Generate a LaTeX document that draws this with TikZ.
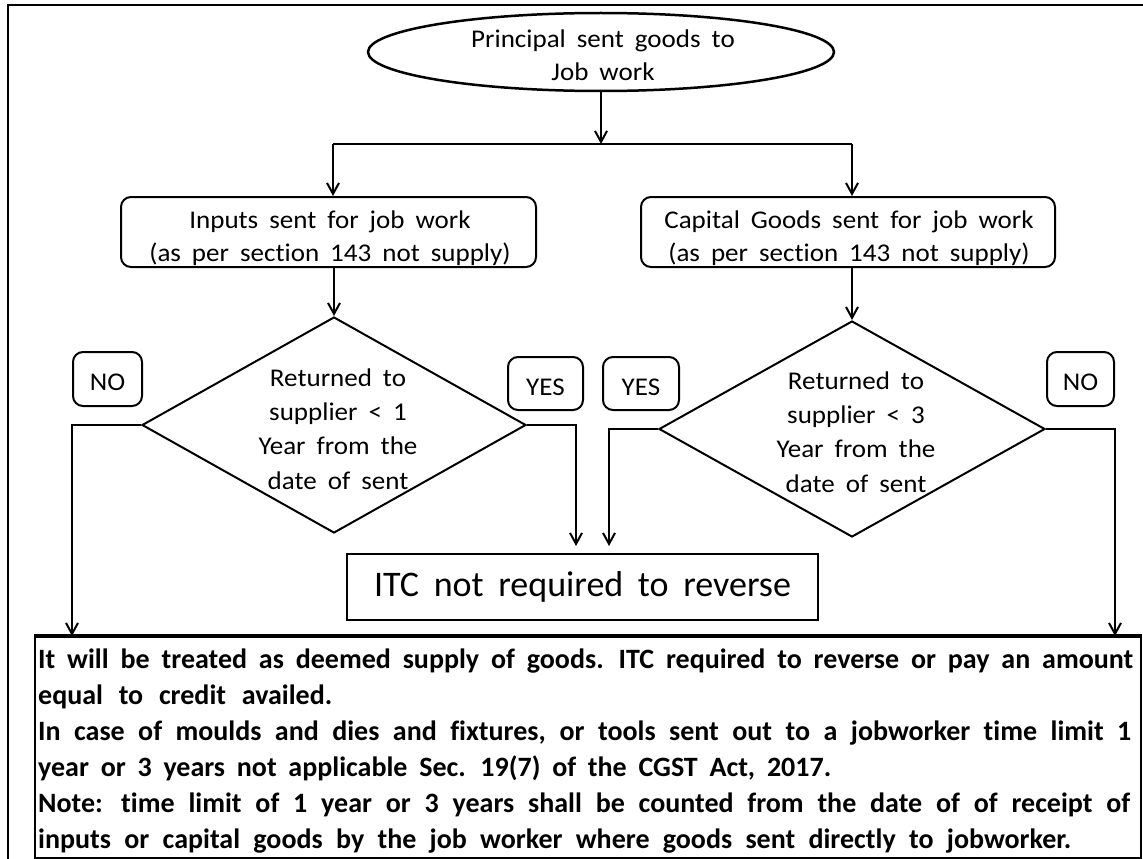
\documentclass[tikz,border=0pt]{standalone}
\usepackage{fontspec}
\setmainfont{Carlito}[WordSpace=1.8, Ligatures=NoCommon]
\newfontfamily\flowfont{Carlito}[FakeStretch=1.06, WordSpace=1.8, Ligatures=NoCommon]
\usetikzlibrary{shapes.geometric,arrows.meta}
\begin{document}
\begin{tikzpicture}[x=1pt,y=-1pt,
  shape line/.style={draw,line width=2pt},
  flow/.style={line width=2pt,-{Straight Barb[length=11pt,width=12pt,line width=2pt]}},
  plain line/.style={line width=2pt},
  label text/.style={font=\flowfont\fontsize{25.5}{34}\selectfont, align=center, inner sep=0pt},
  rbox/.style={shape line, rounded corners=10pt, inner sep=0pt},
  answer/.style={rbox, font=\flowfont\fontsize{25.5}{30}\selectfont, text height=23pt, text depth=0pt},
  note line/.style={anchor=base west, inner sep=0pt, font=\fontsize{28}{36}\selectfont\bfseries}
]
\useasboundingbox (0,0) rectangle (1143,859);
\fill[white] (0,0) rectangle (1143,859);
\clip (0,0) rectangle (1143,859);

% outer frame
\draw[line width=2.5pt] (8,880) -- (8,5) -- (1160,5);

% start
\node (start) [ellipse, shape line, line width=2.5pt, minimum width=466pt, minimum height=78pt, inner sep=0pt] at (601,52) {};
\node (start text) [label text, font=\flowfont\fontsize{25.5}{33}\selectfont] at (603,55) {Principal sent goods to\\Job work};

% the two kinds of goods
\node (inputs) [rbox, minimum width=415pt, minimum height=70pt] at (328.5,232) {};
\node (inputs text) [label text, font=\flowfont\fontsize{25.5}{33}\selectfont] at (330,238) {Inputs sent for job work\\(as per section 143 not supply)};
\node (capital) [rbox, minimum width=414pt, minimum height=70pt] at (848,232) {};
\node (capital text) [label text, font=\flowfont\fontsize{25.5}{33}\selectfont] at (849,238) {Capital Goods sent for job work\\(as per section 143 not supply)};

% decisions
\node (d1) [diamond, shape line, minimum width=384pt, minimum height=216pt, inner sep=0pt] at (334,425) {};
\node (d1 text) [label text, font=\flowfont\fontsize{25.5}{34.3}\selectfont] at (338,429) {Returned to\\supplier < 1\\Year from the\\date of sent};
\node (d2) [diamond, shape line, minimum width=386pt, minimum height=216pt, inner sep=0pt] at (852,429) {};
\node (d2 text) [label text, font=\flowfont\fontsize{25.5}{34.3}\selectfont] at (856,432) {Returned to\\supplier < 3\\Year from the\\date of sent};

% answers
\node (no1) [answer, minimum width=69pt, minimum height=54pt] at (107.5,379) {NO};
\node (yes1) [answer, minimum width=75pt, minimum height=53pt] at (545.5,383.5) {YES};
\node (yes2) [answer, minimum width=76pt, minimum height=53pt] at (641,383.5) {YES};
\node (no2) [answer, minimum width=67pt, minimum height=54pt] at (1080.5,379) {NO};

% outcomes
\node (itc) [draw, line width=2pt, minimum width=471pt, minimum height=66pt, inner sep=0pt, font=\fontsize{36}{40}\selectfont] at (582.5,587) {ITC not required to reverse};

\node (note) [draw, line width=1.5pt, minimum width=1106pt, minimum height=221pt, anchor=north west, inner sep=0pt] at (34,636) {};
\draw[line width=4pt] (note.north west) -- (note.north east);
\node (n1) [note line] at (38,668) {\makebox[1095pt][s]{It will be treated as deemed supply of goods. ITC required to reverse or pay an amount}};
\node (n2) [note line] at (38,704) {\makebox[294pt][s]{equal to credit availed.}};
\node (n3) [note line] at (38,740) {\makebox[1093pt][s]{In case of moulds and dies and fixtures, or tools sent out to a jobworker time limit 1}};
\node (n4) [note line] at (38,776) {\makebox[793pt][s]{year or 3 years not applicable Sec. 19(7) of the CGST Act, 2017.}};
\node (n5) [note line] at (38,812) {\makebox[1092pt][s]{Note: time limit of 1 year or 3 years shall be counted from the date of of receipt of}};
\node (n6) [note line] at (38,848) {\makebox[1033pt][s]{inputs or capital goods by the job worker where goods sent directly to jobworker.}};

% connectors
\coordinate (busL) at (333,144);
\coordinate (busR) at (852,144);
\draw[plain line] (busL) -- (busR);
\draw[flow] (start.south) -- (start.south |- busL);
\draw[flow] (busL) -- (busL |- inputs.north);
\draw[flow] (busR) -- (busR |- capital.north);
\draw[flow] (d1.north |- inputs.south) -- (d1.north);
\draw[flow] (d2.north |- capital.south) -- (d2.north);
\draw[flow] (d1.west) -| (no1.west |- note.north);
\draw[flow] (d2.east) -| (no2.east |- note.north);
\coordinate (itcL) at (576,546);
\coordinate (itcR) at (609,546);
\draw[flow] (d1.east) -| (itcL);
\draw[flow] (d2.west) -| (itcR);
\end{tikzpicture}
\end{document}
